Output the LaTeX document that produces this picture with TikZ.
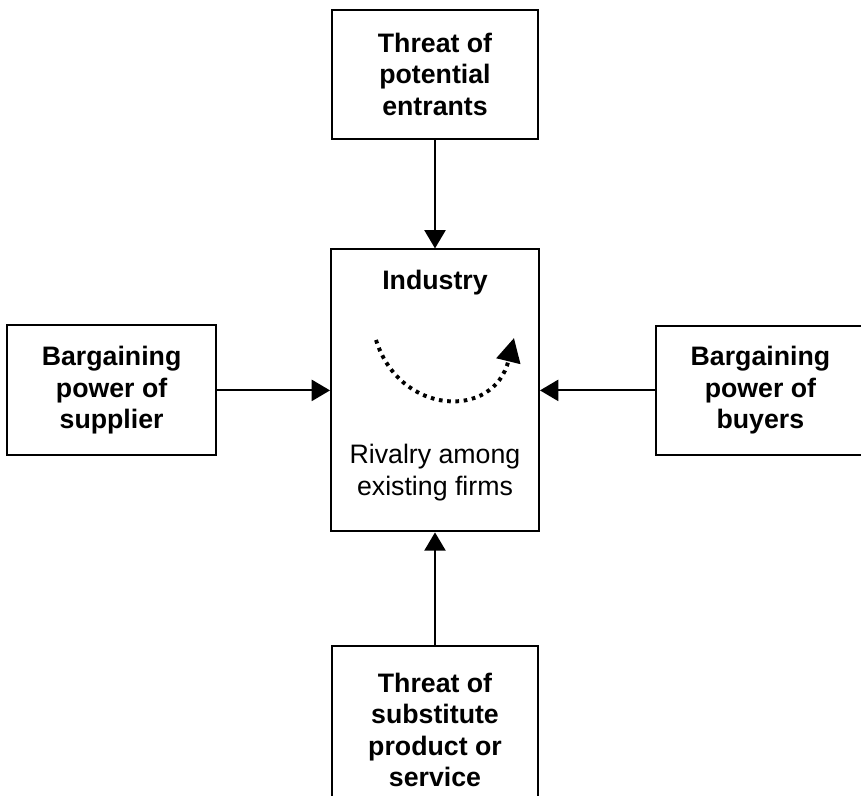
\documentclass[tikz,border=0pt]{standalone}
\usepackage{fontspec}
\setmainfont{Liberation Sans}
\usetikzlibrary{arrows.meta, positioning}
\tikzset{
	forcebox/.style={draw, line width=1.4pt, minimum width=5.15cm, inner sep=0pt, align=center, font=\bfseries\fontsize{19}{22.5}\selectfont},
	forcearr/.style={-{Triangle[length=13pt, width=15pt]}, line width=1.4pt},
	rivalryarr/.style={-{Triangle[length=17pt, width=17pt]}, line width=2.8pt, dash pattern=on 2.6pt off 3.3pt},
}

\begin{document}
\begin{tikzpicture}
	\useasboundingbox (0,0) rectangle (21.525,-19.9);
	\node[forcebox, minimum height=3.225cm] (entrants) at (10.875,-1.86) {Threat of\\potential\\entrants};
	\node[forcebox, minimum width=5.2cm, minimum height=7.05cm] (industry) at (10.875,-9.76) {};
	\node[forcebox, minimum width=5.225cm, minimum height=3.25cm] (supplier) at (2.79,-9.76) {Bargaining\\power of\\supplier};
	\node[forcebox, minimum width=5.225cm, minimum height=3.225cm] (buyers) at (19.01,-9.76) {Bargaining\\power of\\buyers};
	\node[forcebox, minimum height=4.2cm] (substitute) at (10.875,-18.25) {Threat of\\substitute\\product or\\service};
	% labels inside the industry box
	\node[font=\bfseries\fontsize{19}{22.5}\selectfont] (indlabel) at (10.875,-7.075) {Industry};
	\node[align=center, font=\fontsize{19}{22.5}\selectfont] (rivalry) at (10.875,-11.81) {Rivalry among\\existing firms};
	\coordinate (rivstart) at (9.4,-8.5);
	\coordinate (rivend) at (12.85,-8.45);
	\draw[rivalryarr] (rivstart) .. controls (10.0,-10.4) and (12.35,-10.5) .. (rivend);
	% forces
	\draw[forcearr] (entrants) -- (industry);
	\draw[forcearr] (supplier) -- (industry);
	\draw[forcearr] (buyers) -- (industry);
	\draw[forcearr] (substitute) -- (industry);
\end{tikzpicture}
\end{document}
